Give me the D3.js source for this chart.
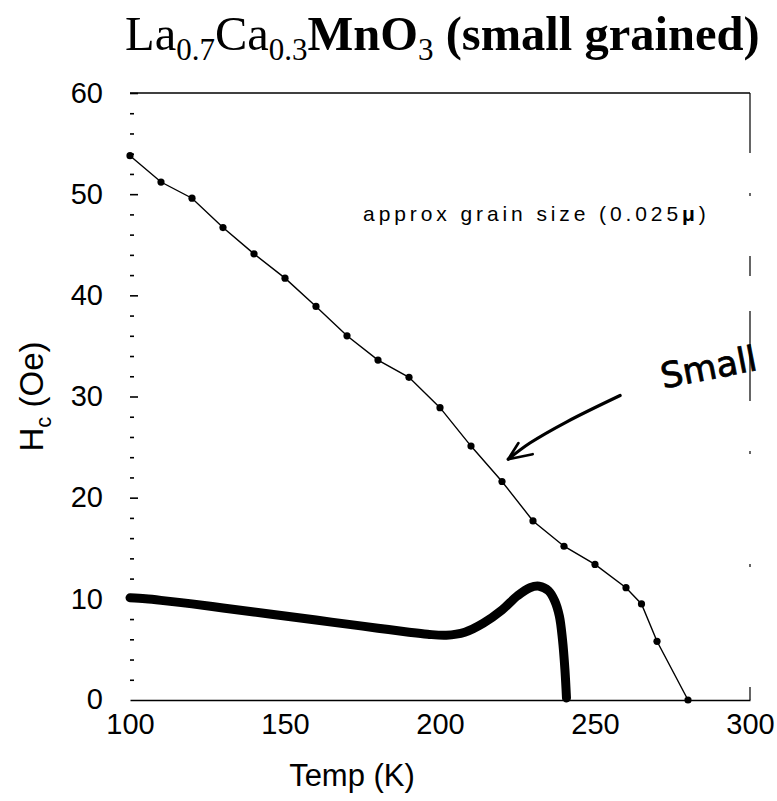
<!DOCTYPE html>
<html>
<head>
<meta charset="utf-8">
<script src="https://cdn.jsdelivr.net/npm/d3@7"></script>
<style>
  html, body { margin: 0; padding: 0; background: #fff; }
  svg { display: block; }
</style>
</head>
<body>
<svg id="chart" width="777" height="801"></svg>
<script>
// Coercive field vs temperature, small-grained La0.7Ca0.3MnO3

// Measured points (thin line with dots)
const pointTemps = [100, 110, 120, 130, 140, 150, 160, 170, 180, 190, 200, 210, 220, 230, 240, 250, 260, 265, 270, 280];
const pointHc    = [53.8, 51.2, 49.6, 46.7, 44.1, 41.7, 38.9, 36.0, 33.6, 31.9, 28.9, 25.1, 21.6, 17.7, 15.2, 13.4, 11.1, 9.5, 5.8, 0.0];

// Continuous trace (thick curve)
const traceTemps = [100, 105, 110, 120, 130, 140, 150, 160, 170, 180, 190, 196, 202, 208, 214, 220, 225, 229, 232, 235, 237, 238.5, 239.5, 240.3, 240.8];
const traceHc    = [10.1, 10.0, 9.85, 9.5, 9.1, 8.7, 8.3, 7.9, 7.5, 7.1, 6.7, 6.5, 6.4, 6.7, 7.6, 8.9, 10.3, 11.1, 11.25, 10.8, 9.8, 8.3, 6.0, 3.0, 0.2];

// Axis ticks
const xTicks = [100, 150, 200, 250, 300];
const yTicks = [0, 10, 20, 30, 40, 50, 60];
const yMinorTicks = d3.range(2, 60, 2).filter(v => v % 10 !== 0);

// Annotation arrow (data coordinates): shaft then head
const arrowShaftT  = [258.1, 240.9, 229.0, 222.0];
const arrowShaftHc = [30.1, 27.5, 25.4, 23.8];
const arrowHeadT   = [225.3, 222.0, 229.9];
const arrowHeadHc  = [25.4, 23.8, 24.3];

const svg = d3.select("#chart");

const x = d3.scaleLinear().domain([100, 300]).range([130, 750]);
const y = d3.scaleLinear().domain([0, 60]).range([700, 93]);

const sans = "'Liberation Sans', Arial, Helvetica, sans-serif";

// Title
const title = svg.append("text")
  .attr("x", 125)
  .attr("y", 50)
  .attr("font-family", "'Liberation Serif', 'Times New Roman', serif")
  .attr("font-size", 48.5)
  .attr("fill", "#000");
title.append("tspan").text("La");
title.append("tspan").attr("font-size", 31).attr("dy", 10).text("0.7");
title.append("tspan").attr("dy", -10).text("Ca");
title.append("tspan").attr("font-size", 31).attr("dy", 10).text("0.3");
title.append("tspan").attr("dy", -10).attr("font-weight", "bold").text("MnO");
title.append("tspan").attr("font-size", 31).attr("dy", 10).text("3");
title.append("tspan").attr("dy", -10).attr("font-weight", "bold").text(" (small grained)");

// Frame: top border, dashed right border
svg.append("line")
  .attr("x1", x(100)).attr("x2", x(300))
  .attr("y1", y(60)).attr("y2", y(60))
  .attr("stroke", "#000").attr("stroke-width", 1.6);

svg.append("line")
  .attr("x1", x(300)).attr("x2", x(300))
  .attr("y1", y(60)).attr("y2", y(0))
  .attr("stroke", "#000").attr("stroke-width", 1.2)
  .attr("stroke-dasharray", "60 40 3 60 20 35 90 50 3 110 3 120");

// X axis
const xAxis = svg.append("g")
  .attr("transform", `translate(0,${y(0)})`)
  .call(d3.axisBottom(x).tickValues(xTicks).tickSize(0).tickPadding(13).tickFormat(d3.format("d")));
xAxis.select(".domain").attr("stroke-width", 1.6);
xAxis.selectAll("text")
  .attr("font-family", sans).attr("font-size", 29).attr("fill", "#000");

// Y axis (ticks point inward, no spine)
const yAxis = svg.append("g")
  .attr("transform", `translate(${x(100)},0)`)
  .call(d3.axisLeft(y).tickValues(yTicks.filter(v => v > 0)).tickSize(-8).tickPadding(27).tickFormat(d3.format("d")));
yAxis.select(".domain").remove();
yAxis.selectAll("line").attr("stroke-width", 1.6);
yAxis.selectAll("text")
  .attr("font-family", sans).attr("font-size", 29).attr("fill", "#000");

// Zero label sits at the x-axis line
svg.append("text")
  .attr("x", x(100) - 27).attr("y", y(0))
  .attr("dy", "0.32em")
  .attr("text-anchor", "end")
  .attr("font-family", sans).attr("font-size", 29)
  .text("0");

const yMinor = svg.append("g")
  .attr("transform", `translate(${x(100)},0)`)
  .call(d3.axisLeft(y).tickValues(yMinorTicks).tickSize(-4).tickFormat(""));
yMinor.select(".domain").remove();
yMinor.selectAll("line").attr("stroke-width", 1.6);

// Axis titles
svg.append("text")
  .attr("x", 352).attr("y", 786)
  .attr("text-anchor", "middle")
  .attr("font-family", sans).attr("font-size", 31)
  .text("Temp (K)");

const yl = svg.append("text")
  .attr("transform", `translate(43,${y(30)}) rotate(-90)`)
  .attr("text-anchor", "middle")
  .attr("font-family", sans).attr("font-size", 33);
yl.append("tspan").text("H");
yl.append("tspan").attr("font-size", 22).attr("dy", 8).text("c");
yl.append("tspan").attr("dy", -8).text(" (Oe)");

// Thick trace
const trace = traceTemps.map((t, i) => [t, traceHc[i]]);
svg.append("path")
  .datum(trace)
  .attr("fill", "none")
  .attr("stroke", "#000")
  .attr("stroke-width", 9)
  .attr("stroke-linecap", "round")
  .attr("stroke-linejoin", "round")
  .attr("d", d3.line().x(d => x(d[0])).y(d => y(d[1])).curve(d3.curveCatmullRom.alpha(0.5)));

// Measured points
const pts = pointTemps.map((t, i) => [t, pointHc[i]]);
svg.append("path")
  .datum(pts)
  .attr("fill", "none")
  .attr("stroke", "#000")
  .attr("stroke-width", 1.4)
  .attr("d", d3.line().x(d => x(d[0])).y(d => y(d[1])));
svg.append("g").selectAll("circle")
  .data(pts)
  .join("circle")
  .attr("cx", d => x(d[0]))
  .attr("cy", d => y(d[1]))
  .attr("r", 3.6)
  .attr("fill", "#000");

// Grain size note
const note = svg.append("text")
  .attr("x", x(175.2)).attr("y", y(47.3))
  .attr("font-family", sans).attr("font-size", 21)
  .attr("letter-spacing", 3.9)
  .attr("fill", "#000");
note.append("tspan").text("approx grain size (0.025");
note.append("tspan").attr("font-weight", "bold").text("\u03bc");
note.append("tspan").text(")");

// Hand-written label and arrow
svg.append("text")
  .attr("transform", `translate(${x(272)},${y(30.8)}) rotate(-11)`)
  .attr("font-family", "'DejaVu Sans', sans-serif")
  .attr("font-size", 35)
  .attr("stroke", "#000").attr("stroke-width", 0.8)
  .attr("fill", "#000")
  .text("Small");

const shaft = arrowShaftT.map((t, i) => [t, arrowShaftHc[i]]);
svg.append("path")
  .datum(shaft)
  .attr("fill", "none")
  .attr("stroke", "#000")
  .attr("stroke-width", 3.2)
  .attr("stroke-linecap", "round")
  .attr("d", d3.line().x(d => x(d[0])).y(d => y(d[1])).curve(d3.curveCatmullRom));
const head = arrowHeadT.map((t, i) => [t, arrowHeadHc[i]]);
svg.append("path")
  .datum(head)
  .attr("fill", "none")
  .attr("stroke", "#000")
  .attr("stroke-width", 2.6)
  .attr("stroke-linecap", "round")
  .attr("stroke-linejoin", "round")
  .attr("d", d3.line().x(d => x(d[0])).y(d => y(d[1])));
</script>
</body>
</html>
